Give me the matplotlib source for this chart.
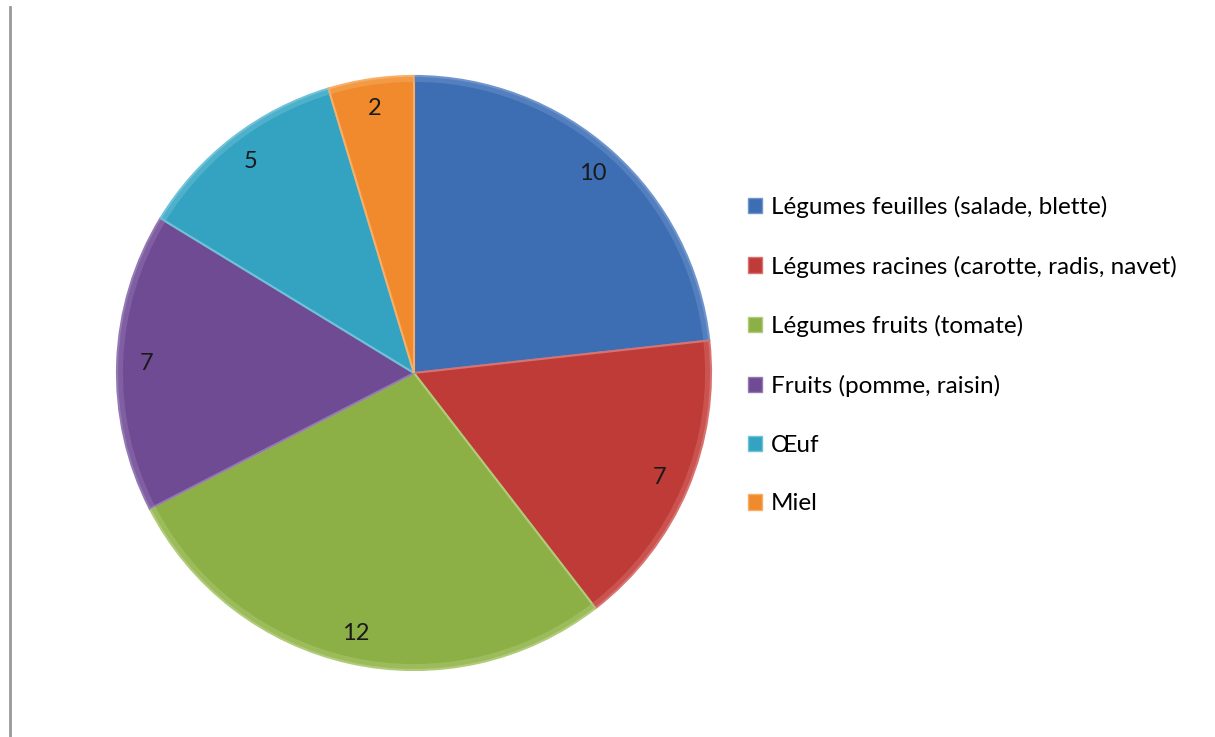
import matplotlib.pyplot as plt
from matplotlib.lines import Line2D
from matplotlib.patches import Patch

plt.rcParams['font.family'] = ['Lato', 'DejaVu Sans']

categories = [
    "Légumes feuilles (salade, blette)",
    "Légumes racines (carotte, radis, navet)",
    "Légumes fruits (tomate)",
    "Fruits (pomme, raisin)",
    "Œuf",
    "Miel",
]
values = [10, 7, 12, 7, 5, 2]
colors = ["#3D6DB3", "#BF3B38", "#8DB046", "#6F4B94", "#33A3C1", "#F08A2C"]
edge_colors = ["#6F95CC", "#D9716E", "#B0CC78", "#9479B3", "#6FC2D8", "#F8AE66"]

W, H = 1215, 737
fig = plt.figure(figsize=(W / 100, H / 100), dpi=100)

# pie area: centre (414, 373) px, radius 300 px
cx, cy, r = 414, 373, 300
ax = fig.add_axes([(cx - r) / W, (H - cy - r) / H, 2 * r / W, 2 * r / H])

wedges, texts, autotexts = ax.pie(
    values,
    colors=colors,
    startangle=90,
    counterclock=False,
    radius=1.0,
    autopct=lambda p: f"{round(p * sum(values) / 100):d}",
    pctdistance=0.9,
    wedgeprops=dict(linewidth=1.5),
    textprops=dict(fontsize=17, color="#1a1a1a"),
)
for w, ec in zip(wedges, edge_colors):
    w.set_edgecolor(ec)

# lighter rim along the outside of each slice
ax.pie(
    values,
    colors=edge_colors,
    startangle=90,
    counterclock=False,
    radius=1.0,
    wedgeprops=dict(width=0.02, linewidth=0, alpha=0.45),
)

ax.set_xlim(-1.01, 1.01)
ax.set_ylim(-1.01, 1.01)
ax.set_aspect("equal")
ax.axis("off")

handles = [Patch(facecolor=c, edgecolor=ec, linewidth=1) for c, ec in zip(colors, edge_colors)]
fig.legend(
    handles, categories,
    loc="upper left",
    bbox_to_anchor=(738 / W, 1 - 186 / H),
    frameon=False,
    fontsize=17.5,
    handlelength=0.6,
    handleheight=0.6,
    handletextpad=0.35,
    labelspacing=1.55,
    borderaxespad=0,
)

# thin grey rule down the left side
fig.add_artist(Line2D([10 / W, 10 / W], [0, 1 - 7 / H], color="#999999", linewidth=2))

fig.savefig("out.png", dpi=100, facecolor="white")
